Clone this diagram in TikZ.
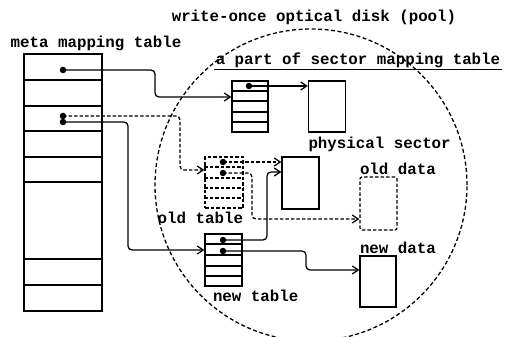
\documentclass[tikz,border=0pt]{standalone}
\usepackage{fontspec}
\newfontfamily\monofont{Liberation Mono}
\usepackage{tikz}
\usetikzlibrary{arrows.meta,positioning}

\begin{document}
\begin{tikzpicture}[x=1pt, y=-1pt, >={Straight Barb[length=6pt,width=8pt]},
  line width=1.3pt,
  lbl/.style={font=\monofont\bfseries\fontsize{15.8}{18}\selectfont, inner sep=1pt},
  cell/.style={draw, inner sep=0pt, minimum width=37pt, minimum height=51pt},
  dsh/.style={dash pattern=on 3.5pt off 2pt},
  pt/.style={circle, fill, inner sep=0pt, minimum size=6.5pt}]
\useasboundingbox (0,0) rectangle (512,337);
\node[draw, circle, dash pattern=on 4pt off 2.5pt, minimum size=312pt, inner sep=0pt] (pool) at (311,185) {};
\node[lbl] (poolname) at (314,17) {write-once optical disk (pool)};
\node[cell, minimum width=78pt, minimum height=257pt] (meta) at (63,182.5) {};
\node[lbl] (metaname) at (96,43) {meta mapping table};
\foreach \y in {80,106,131,157,182,259,285}
  \draw (meta.west |- 0,\y) -- (meta.east |- 0,\y);
\node[cell, minimum width=36pt] (part) at (250,106.5) {};
\foreach \y in {91,101,112,122}
  \draw (part.west |- 0,\y) -- (part.east |- 0,\y);
\node[lbl] (partname) at (358,60) {a part of sector mapping table};
\draw (partname.south west) -- (partname.south east);
\node[cell] (phys) at (327,106.5) {};
\node[lbl, below right=3pt and -1pt of phys.south west] (physname) {physical sector};
\node[cell, dsh, minimum width=38pt] (old) at (224,182.5) {};
\foreach \y in {167,178,188,198}
  \draw[dsh] (old.west |- 0,\y) -- (old.east |- 0,\y);
\node[lbl, below left=2pt and -1pt of old.south east] (oldname) {old table};
\node[cell, minimum height=52pt] (mid) at (300.5,183) {};
\node[cell, dsh, rounded corners=2pt, minimum height=53pt] (olddat) at (378.5,203.5) {};
\node[lbl, above right=0pt and -1pt of olddat.north west] (olddatname) {old data};
\node[cell, minimum height=52pt] (new) at (223.5,260) {};
\foreach \y in {244,255,266,276}
  \draw (new.west |- 0,\y) -- (new.east |- 0,\y);
\node[lbl, below right=2pt and 7pt of new.south west] (newname) {new table};
\node[cell, minimum width=36pt] (newdat) at (378,281.5) {};
\node[lbl, above right=0pt and -1pt of newdat.north west] (newdatname) {new data};
\node[pt] (m1) at (63,70) {};
\node[pt] (m2) at (63,116) {};
\node[pt] (m3) at (63,122) {};
\node[pt] (p1) at (249,86) {};
\node[pt] (o1) at (223,162) {};
\node[pt] (o2) at (223,173) {};
\node[pt] (n1) at (223,240) {};
\node[pt] (n2) at (223,251) {};
\draw[->, rounded corners=4pt] (m1.center) -- (155,70) |- (part.west |- 0,97);
\draw[->] (p1.center) -- (phys.west |- p1);
\draw[->, dsh, rounded corners=4pt] (m2.center) -- (180,116) |- (old.west |- 0,170);
\draw[->, rounded corners=4pt] (m3.center) -- (128,122) |- (new.west |- 0,250);
\draw[->, dsh] (o1.center) -- (mid.west |- o1);
\draw[->, dsh, rounded corners=4pt] (o2.center) -- (252,173) |- (olddat.west |- 0,219);
\draw[->, rounded corners=4pt] (n1.center) -- (267,240) |- (mid.west |- 0,172);
\draw[->, rounded corners=4pt] (n2.center) -- (306,251) |- (newdat.west |- 0,270);
\end{tikzpicture}
\end{document}
